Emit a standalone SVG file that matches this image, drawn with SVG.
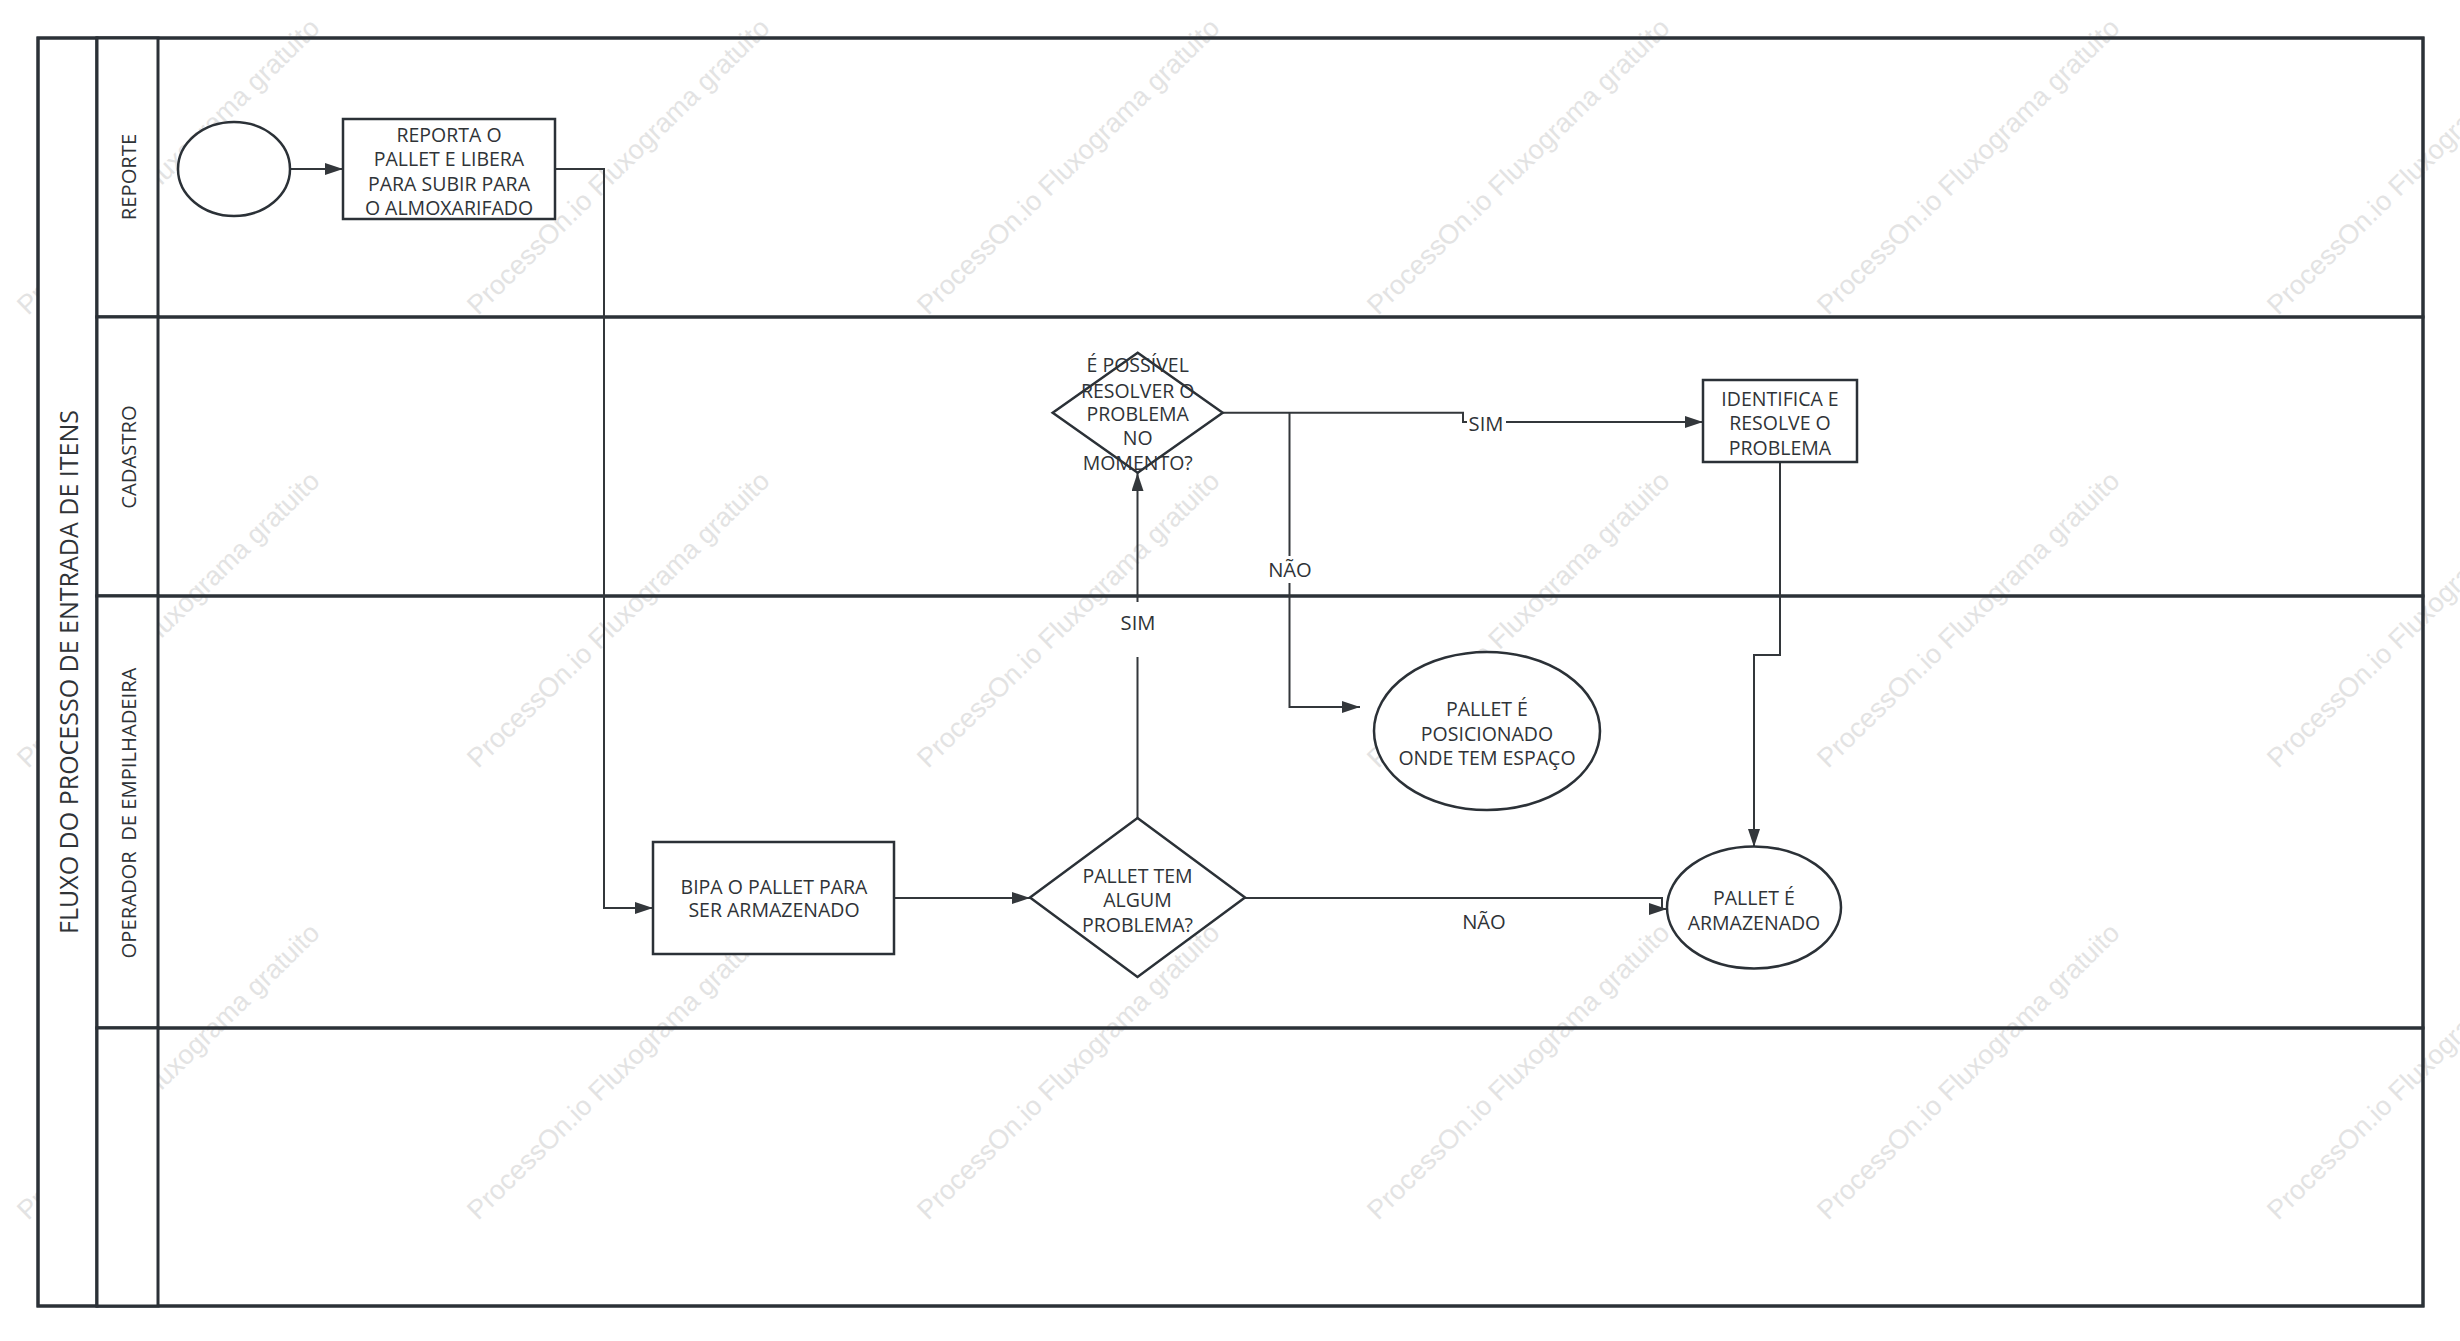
<svg xmlns="http://www.w3.org/2000/svg" width="2460" height="1341" viewBox="0 0 2460 1341">
<style>
.bg{fill:#ffffff}
.wm{font-family:"Liberation Sans",Arial,sans-serif;font-size:27px;fill:#e3e3e3}
.lane{fill:none;stroke:#2b3137;stroke-width:3}
.hdr{fill:#ffffff;stroke:#2b3137;stroke-width:3}
.node{fill:#ffffff;stroke:#2b3137;stroke-width:2.5}
.t{font-family:"Open Sans","Liberation Sans",sans-serif;font-size:19.5px;fill:#2f3337;text-anchor:middle;dominant-baseline:central}
.lbl{font-size:20.2px}
.title{font-size:25px}
.conn{fill:none;stroke:#33373b;stroke-width:2}
.lblbg{fill:#ffffff}
</style>
<defs>
<marker id="arr" markerUnits="userSpaceOnUse" markerWidth="19" markerHeight="12" refX="18" refY="6" orient="auto">
<path d="M0,0 L18,6 L0,12 z" fill="#33373b"/>
</marker>
</defs>
<rect class="bg" x="0" y="0" width="2460" height="1341"/>
<g id="watermarks">
<text class="wm" transform="translate(28,316) rotate(-44.3)">ProcessOn.io Fluxograma gratuito</text>
<text class="wm" transform="translate(478,316) rotate(-44.3)">ProcessOn.io Fluxograma gratuito</text>
<text class="wm" transform="translate(928,316) rotate(-44.3)">ProcessOn.io Fluxograma gratuito</text>
<text class="wm" transform="translate(1378,316) rotate(-44.3)">ProcessOn.io Fluxograma gratuito</text>
<text class="wm" transform="translate(1828,316) rotate(-44.3)">ProcessOn.io Fluxograma gratuito</text>
<text class="wm" transform="translate(2278,316) rotate(-44.3)">ProcessOn.io Fluxograma gratuito</text>
<text class="wm" transform="translate(28,769) rotate(-44.3)">ProcessOn.io Fluxograma gratuito</text>
<text class="wm" transform="translate(478,769) rotate(-44.3)">ProcessOn.io Fluxograma gratuito</text>
<text class="wm" transform="translate(928,769) rotate(-44.3)">ProcessOn.io Fluxograma gratuito</text>
<text class="wm" transform="translate(1378,769) rotate(-44.3)">ProcessOn.io Fluxograma gratuito</text>
<text class="wm" transform="translate(1828,769) rotate(-44.3)">ProcessOn.io Fluxograma gratuito</text>
<text class="wm" transform="translate(2278,769) rotate(-44.3)">ProcessOn.io Fluxograma gratuito</text>
<text class="wm" transform="translate(28,1221) rotate(-44.3)">ProcessOn.io Fluxograma gratuito</text>
<text class="wm" transform="translate(478,1221) rotate(-44.3)">ProcessOn.io Fluxograma gratuito</text>
<text class="wm" transform="translate(928,1221) rotate(-44.3)">ProcessOn.io Fluxograma gratuito</text>
<text class="wm" transform="translate(1378,1221) rotate(-44.3)">ProcessOn.io Fluxograma gratuito</text>
<text class="wm" transform="translate(1828,1221) rotate(-44.3)">ProcessOn.io Fluxograma gratuito</text>
<text class="wm" transform="translate(2278,1221) rotate(-44.3)">ProcessOn.io Fluxograma gratuito</text>
</g>
<g id="pool">
<rect class="hdr" x="38" y="38" width="59" height="1268"/>
<text class="t title" transform="translate(68,672) rotate(-90)">FLUXO DO PROCESSO DE ENTRADA DE ITENS</text>
<rect class="lane" x="38" y="38" width="2385" height="1268"/>
</g>
<g id="lane-reporte">
<rect class="lane" x="97" y="38" width="2326" height="279"/>
<rect class="hdr" x="97" y="38" width="61" height="279"/>
<text class="t lbl" transform="translate(128,177) rotate(-90)">REPORTE</text>
</g>
<g id="lane-cadastro">
<rect class="lane" x="97" y="317" width="2326" height="279"/>
<rect class="hdr" x="97" y="317" width="61" height="279"/>
<text class="t lbl" transform="translate(128,457) rotate(-90)">CADASTRO</text>
</g>
<g id="lane-operador">
<rect class="lane" x="97" y="596" width="2326" height="432"/>
<rect class="hdr" x="97" y="596" width="61" height="432"/>
<text class="t lbl" transform="translate(128,813) rotate(-90)" xml:space="preserve">OPERADOR  DE EMPILHADEIRA</text>
</g>
<g id="lane-empty">
<rect class="lane" x="97" y="1028" width="2326" height="278"/>
<rect class="hdr" x="97" y="1028" width="61" height="278"/>
</g>
<g id="connectors">
<path class="conn" d="M290,169 H343" marker-end="url(#arr)"/>
<path class="conn" d="M555,169 H604 V908 H653" marker-end="url(#arr)"/>
<path class="conn" d="M894,898 H1030" marker-end="url(#arr)"/>
<path class="conn" d="M1137.5,818 V473" marker-end="url(#arr)"/>
<rect class="lblbg" x="1120" y="602" width="36" height="55"/>
<text class="t lbl" x="1138" y="622">SIM</text>
<path class="conn" d="M1222.7,412.7 H1463 V422 H1703" marker-end="url(#arr)"/>
<rect class="lblbg" x="1467" y="410" width="39" height="26"/>
<text class="t lbl" x="1486" y="423">SIM</text>
<path class="conn" d="M1289.5,412.7 V707 H1360" marker-end="url(#arr)"/>
<rect class="lblbg" x="1269" y="556" width="42" height="27"/>
<text class="t lbl" x="1290" y="569">NÃO</text>
<path class="conn" d="M1780,462 V655 H1754 V847" marker-end="url(#arr)"/>
<path class="conn" d="M1245,898 H1662 V909 H1667" marker-end="url(#arr)"/>
<text class="t lbl" x="1484" y="921">NÃO</text>
</g>
<g id="start">
<ellipse class="node" cx="234" cy="169" rx="56" ry="47"/>
</g>
<g id="reporta">
<rect class="node" x="343" y="119" width="212" height="100"/>
<text class="t" x="449" y="134">REPORTA O</text>
<text class="t" x="449" y="158">PALLET E LIBERA</text>
<text class="t" x="449" y="183">PARA SUBIR PARA</text>
<text class="t" x="449" y="207">O ALMOXARIFADO</text>
</g>
<g id="bipa">
<rect class="node" x="653" y="842" width="241" height="112"/>
<text class="t" x="774" y="886">BIPA O PALLET PARA</text>
<text class="t" x="774" y="909">SER ARMAZENADO</text>
</g>
<g id="decisao-problema">
<polygon class="node" points="1137.5,818 1245,897.5 1137.5,977 1030,897.5"/>
<text class="t" x="1137.5" y="875">PALLET TEM</text>
<text class="t" x="1137.5" y="899">ALGUM</text>
<text class="t" x="1137.5" y="924">PROBLEMA?</text>
</g>
<g id="decisao-resolver">
<polygon class="node" points="1137.7,352.7 1222.7,412.7 1137.7,472.7 1052.7,412.7"/>
<text class="t" x="1137.7" y="364">É POSSÍVEL</text>
<text class="t" x="1137.7" y="390">RESOLVER O</text>
<text class="t" x="1137.7" y="413">PROBLEMA</text>
<text class="t" x="1137.7" y="437">NO</text>
<text class="t" x="1137.7" y="462">MOMENTO?</text>
</g>
<g id="identifica">
<rect class="node" x="1703" y="380" width="154" height="82"/>
<text class="t" x="1780" y="398">IDENTIFICA E</text>
<text class="t" x="1780" y="422">RESOLVE O</text>
<text class="t" x="1780" y="447">PROBLEMA</text>
</g>
<g id="posicionado">
<ellipse class="node" cx="1487" cy="731" rx="113" ry="79"/>
<text class="t" x="1487" y="708">PALLET É</text>
<text class="t" x="1487" y="733">POSICIONADO</text>
<text class="t" x="1487" y="757">ONDE TEM ESPAÇO</text>
</g>
<g id="armazenado">
<ellipse class="node" cx="1754" cy="907.5" rx="87" ry="61"/>
<text class="t" x="1754" y="897">PALLET É</text>
<text class="t" x="1754" y="922">ARMAZENADO</text>
</g>
</svg>
